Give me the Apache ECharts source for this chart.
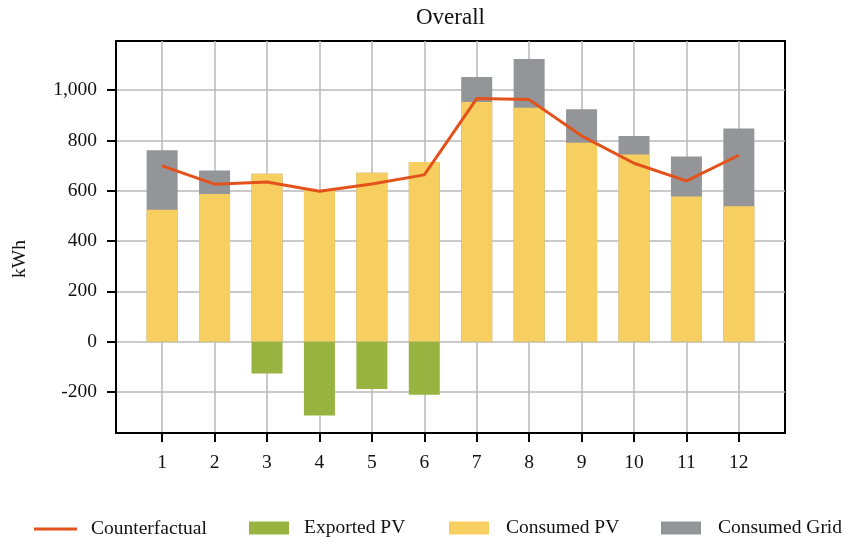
<!DOCTYPE html>
<html>
<head>
<meta charset="utf-8">
<script src="https://cdn.jsdelivr.net/npm/echarts@6/dist/echarts.min.js"></script>
<style>
  html, body { margin: 0; padding: 0; background: #fff; }
  #chart { width: 848px; height: 538px; }
</style>
</head>
<body>
<div id="chart"></div>
<script>
// Monthly energy balance (kWh)
const months = [1, 2, 3, 4, 5, 6, 7, 8, 9, 10, 11, 12];
const consumedPV = [524, 587, 667, 603, 671, 714, 953, 930, 791, 744, 577, 538];
const consumedGrid = [237, 93, 0, 0, 0, 0, 99, 193, 133, 73, 159, 309];
const exportedPV = [0, 0, -127, -293, -188, -211, 0, 0, 0, 0, 0, 0];
const counterfactual = [699, 626, 635, 598, 627, 663, 966, 962, 818, 709, 639, 741];
const yTicks = [-200, 0, 200, 400, 600, 800, 1000];

const FONT = 'Liberation Serif';
const COLORS = {
  line: '#E4521B',
  exported: '#99B341',
  consumedPV: '#F7CF60',
  grid: '#949599'
};

const pairs = (vals) => months.map((m, i) => [m, vals[i]]);
// Grid consumption sits on top of consumed PV: its bar reaches the monthly total
const totalConsumed = consumedPV.map((v, i) => v + consumedGrid[i]);
const fmtThousands = (v) => String(v).replace(/\B(?=(\d{3})+(?!\d))/g, ',');

const chart = echarts.init(document.getElementById('chart'), null, { renderer: 'canvas' });

const legendText = (pad) => ({ fontFamily: FONT, fontSize: 19.5, color: '#111', padding: [0, 0, 0, pad] });
const legendBase = { top: 518, padding: 0, itemHeight: 13, itemWidth: 40 };

chart.setOption({
  animation: false,
  backgroundColor: '#fff',
  title: {
    text: 'Overall',
    left: 416,
    top: 6,
    padding: 0,
    textStyle: { fontFamily: FONT, fontSize: 23, fontWeight: 'normal', color: '#111' }
  },
  legend: [
    Object.assign({}, legendBase, {
      left: 34, top: 519, itemWidth: 43, itemHeight: 3,
      data: [{ name: 'Counterfactual', icon: 'rect' }],
      textStyle: legendText(9)
    }),
    Object.assign({}, legendBase, { left: 249, data: [{ name: 'Exported PV', icon: 'rect' }], textStyle: legendText(10) }),
    Object.assign({}, legendBase, { left: 449, data: [{ name: 'Consumed PV', icon: 'rect' }], textStyle: legendText(12) }),
    Object.assign({}, legendBase, { left: 661, data: [{ name: 'Consumed Grid', icon: 'rect' }], textStyle: legendText(12) })
  ],
  grid: {
    left: 116, right: 63, top: 41, bottom: 105,
    show: true, borderColor: '#000', borderWidth: 2, backgroundColor: 'transparent'
  },
  xAxis: {
    type: 'value',
    min: 0.12, max: 12.88,
    splitNumber: 12, minInterval: 1, maxInterval: 1,
    axisLine: { show: true, onZero: false, lineStyle: { color: '#000', width: 2 } },
    axisTick: { show: true, length: 9, customValues: months, lineStyle: { color: '#000', width: 2 } },
    axisLabel: {
      customValues: months,
      margin: 20,
      fontFamily: FONT, fontSize: 19.5, color: '#111',
      formatter: (v) => (Number.isInteger(v) ? String(v) : '')
    },
    splitLine: { show: true, lineStyle: { color: '#B8B8B8', width: 1.5 } }
  },
  yAxis: {
    type: 'value',
    min: -363, max: 1195,
    splitNumber: 8, minInterval: 200, maxInterval: 200,
    axisLine: { show: true, onZero: false, lineStyle: { color: '#000', width: 2 } },
    axisTick: { show: true, length: 9, customValues: yTicks, lineStyle: { color: '#000', width: 2 } },
    axisLabel: {
      customValues: yTicks,
      margin: 19,
      fontFamily: FONT, fontSize: 19.5, color: '#111',
      formatter: (v) => (v % 200 === 0 && v <= 1000 ? fmtThousands(v) : '')
    },
    splitLine: { show: true, lineStyle: { color: '#B8B8B8', width: 1.5 } }
  },
  graphic: [{
    type: 'text',
    x: 20, y: 259,
    rotation: Math.PI / 2,
    style: {
      text: 'kWh',
      fontFamily: FONT, fontSize: 19.5, fill: '#111',
      align: 'center', verticalAlign: 'middle'
    }
  }],
  series: [
    {
      name: 'Consumed Grid', type: 'bar', barWidth: 31, barGap: '-100%',
      itemStyle: { color: COLORS.grid },
      data: pairs(totalConsumed)
    },
    {
      name: 'Consumed PV', type: 'bar', barWidth: 31, barGap: '-100%',
      itemStyle: { color: COLORS.consumedPV },
      data: pairs(consumedPV)
    },
    {
      name: 'Exported PV', type: 'bar', barWidth: 31, barGap: '-100%',
      itemStyle: { color: COLORS.exported },
      data: pairs(exportedPV)
    },
    {
      name: 'Counterfactual', type: 'line', symbol: 'none', z: 5,
      lineStyle: { color: COLORS.line, width: 3 },
      itemStyle: { color: COLORS.line },
      data: pairs(counterfactual)
    }
  ]
});
</script>
</body>
</html>
